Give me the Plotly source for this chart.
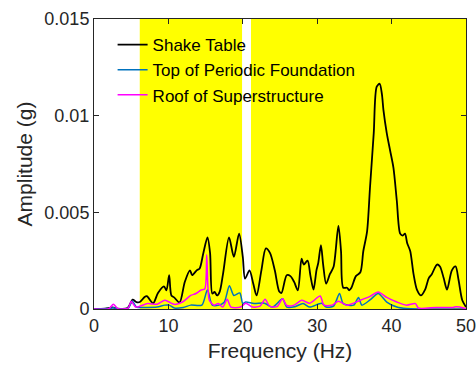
import plotly.graph_objects as go

# Shaded frequency bands (Hz)
band_starts = [6.15, 21.1]
band_ends = [19.9, 50.0]

# Shake Table
freq_table = [0, 1.5, 2.5, 3.2, 4.5, 5.2, 5.7, 6.15, 6.8, 7.1, 7.95, 8.6, 9.4, 9.74, 10.1, 10.4, 10.77,
              11.5, 12.2, 12.9, 13.2, 13.8, 14.2, 14.7, 15.25, 15.6, 15.9, 16.2, 16.55, 16.9, 17.35,
              18.15, 18.8, 19.5, 20.0, 20.3, 20.9, 21.4, 21.85, 22.5, 23.1, 23.65, 24.3, 24.9, 25.2,
              25.9, 26.4, 26.9, 27.4, 27.9, 28.2, 28.7, 29.1, 29.5, 29.9, 30.15, 30.5, 30.8, 31.2,
              31.7, 32.2, 32.85, 33.2, 33.5, 34.0, 34.3, 34.6, 35.2, 35.8, 36.2, 36.7, 37.1, 37.6,
              38.0, 38.4, 38.7, 38.9, 39.35, 39.8, 40.25, 40.7, 41.15, 41.5, 41.8, 42.1, 42.5, 42.95,
              43.4, 43.95, 44.5, 45.0, 45.4, 46.1, 46.5, 47.0, 47.45, 48.1, 48.6, 49.0, 49.5, 50.0]
amp_table = [0.0, 0.00002, 0.00008, 0.00002, 0.00005, 0.00048, 0.00036, 0.00036, 0.00062, 0.00066,
             0.0003, 0.00083, 0.00117, 0.00097, 0.00175, 0.0007, 0.0006, 0.00034, 0.0014, 0.002,
             0.00175, 0.002, 0.0021, 0.0029, 0.0037, 0.0029, 0.0008, 0.00088, 0.0007, 0.0009, 0.00183,
             0.0037, 0.0027, 0.0039, 0.0027, 0.00157, 0.002, 0.00132, 0.0007, 0.002, 0.00313, 0.0029,
             0.002, 0.0009, 0.00083, 0.00175, 0.0017, 0.0014, 0.00097, 0.0026, 0.0023, 0.0025, 0.0017,
             0.001, 0.002, 0.0024, 0.0033, 0.0023, 0.00131, 0.0018, 0.00218, 0.0043, 0.003, 0.0011,
             0.0011, 0.00097, 0.0011, 0.0017, 0.0019, 0.003, 0.004, 0.0063, 0.0091, 0.0115, 0.01165,
             0.0111, 0.0103, 0.0091, 0.0082, 0.0073, 0.0056, 0.0039, 0.0038, 0.0039, 0.0034, 0.003,
             0.0018, 0.001, 0.0007, 0.001, 0.0016, 0.0018, 0.0023, 0.0022, 0.0016, 0.001, 0.002, 0.0022,
             0.0015, 0.00045, 0.0001]

# Top of Periodic Foundation
freq_found = [0, 2.0, 2.6, 3.2, 4.6, 5.15, 5.7, 7.0, 8.5, 9.5, 10.1, 10.8, 12.0, 13.0, 14.5, 15.25,
              15.9, 16.8, 17.5, 18.2, 18.8, 19.6, 20.0, 20.4, 21.5, 22.9, 24.0, 25.35, 25.9, 27.0,
              28.1, 29.0, 30.6, 31.2, 32.2, 33.0, 33.5, 34.9, 35.55, 36.0, 37.1, 38.2, 39.35, 40.7,
              42.0, 44.0, 50.0]
amp_found = [0.0, 0.00002, 0.00006, 0.00001, 0.00004, 0.00041, 0.0001, 0.00008, 0.0001, 0.0002, 0.0002,
             0.00005, 0.00008, 0.0002, 0.0002, 0.001, 0.0002, 0.0002, 0.00035, 0.0012, 0.0007, 0.00083,
             0.00028, 0.00036, 0.00028, 0.0003, 0.0001, 0.00053, 0.0001, 0.00012, 0.00028, 0.0001, 0.0003,
             0.0001, 0.00015, 0.0008, 0.00028, 0.0002, 0.0006, 0.0002, 0.00047, 0.0008, 0.00036, 0.0001,
             0.00002, 0.0, 0.0]

# Roof of Superstructure
freq_roof = [0, 2.0, 2.6, 3.2, 4.6, 5.0, 5.6, 7.2, 8.5, 9.5, 10.1, 10.8, 11.9, 13.0, 13.7, 14.35, 14.9,
             15.15, 15.5, 16.1, 16.7, 17.3, 17.9, 18.4, 19.7, 20.4, 21.3, 22.3, 23.0, 23.6, 24.6,
             25.35, 25.9, 26.9, 27.9, 29.0, 30.4, 30.9, 32.0, 32.85, 34.0, 35.8, 37.1, 38.2, 39.35,
             40.7, 42.0, 43.2, 43.6, 46.0, 48.3, 48.6, 49.7, 50.0]
amp_roof = [0.0, 0.00002, 0.00024, 0.00002, 0.00005, 0.0004, 0.0001, 0.00028, 0.00025, 0.00045, 0.00036,
            0.00024, 0.00036, 0.0007, 0.0008, 0.00097, 0.00105, 0.0028, 0.00045, 0.0002, 0.00028,
            0.0001, 0.0005, 0.0001, 0.0001, 0.0003, 0.0001, 0.00015, 0.0005, 0.00015, 0.00012, 0.00053,
            0.00018, 0.0002, 0.00045, 0.0003, 0.00067, 0.0002, 0.0002, 0.0004, 0.0002, 0.00045, 0.00065,
            0.00088, 0.0006, 0.00036, 0.0002, 0.00028, 0.00005, 0.00008, 0.00008, 0.00012, 0.00005, 0.0]

fig = go.Figure()

for s, e in zip(band_starts, band_ends):
    fig.add_vrect(x0=s, x1=e, fillcolor="#FFFF00", opacity=1, line_width=0, layer="below")

fig.add_trace(go.Scatter(x=freq_table, y=amp_table, mode="lines", name="Shake Table",
                         line=dict(color="#000000", width=1.8, shape="spline", smoothing=0.8)))
fig.add_trace(go.Scatter(x=freq_found, y=amp_found, mode="lines", name="Top of Periodic Foundation",
                         line=dict(color="#0072BD", width=1.5, shape="spline", smoothing=0.7)))
fig.add_trace(go.Scatter(x=freq_roof, y=amp_roof, mode="lines", name="Roof of Superstructure",
                         line=dict(color="#FF00FF", width=1.5, shape="spline", smoothing=0.7)))

font_family = "Liberation Sans, Arial, sans-serif"
fig.update_layout(
    width=476, height=366,
    margin=dict(l=94, r=10, t=19, b=57, autoexpand=False),
    paper_bgcolor="white", plot_bgcolor="white",
    font=dict(family=font_family, color="#262626"),
    showlegend=True,
    legend=dict(x=0.05, y=0.972, xanchor="left", yanchor="top",
                bgcolor="rgba(0,0,0,0)", borderwidth=0,
                font=dict(size=17, color="#000000", family=font_family),
                tracegroupgap=0, itemwidth=30),
    xaxis=dict(range=[0, 50], tickvals=[0, 10, 20, 30, 40, 50],
               ticktext=["0", "10", "20", "30", "40", "50"], automargin=False,
               ticklabeloverflow="allow",
               showgrid=False, zeroline=False, showline=True, linecolor="#262626", linewidth=1,
               mirror="ticks", ticks="inside", ticklen=5, tickcolor="#262626",
               tickfont=dict(size=18, color="#262626"),
               title=dict(text="Frequency (Hz)", font=dict(size=21, color="#262626"), standoff=8)),
    yaxis=dict(range=[0, 0.015], tickvals=[0, 0.005, 0.01, 0.015],
               ticktext=["0", "0.005", "0.01", "0.015"], automargin=False,
               ticklabeloverflow="allow",
               showgrid=False, zeroline=False, showline=True, linecolor="#262626", linewidth=1,
               mirror="ticks", ticks="inside", ticklen=5, tickcolor="#262626",
               tickfont=dict(size=18, color="#262626"),
               title=dict(text="Amplitude (g)", font=dict(size=21, color="#262626"), standoff=6)),
)

fig.write_html("out.html")
